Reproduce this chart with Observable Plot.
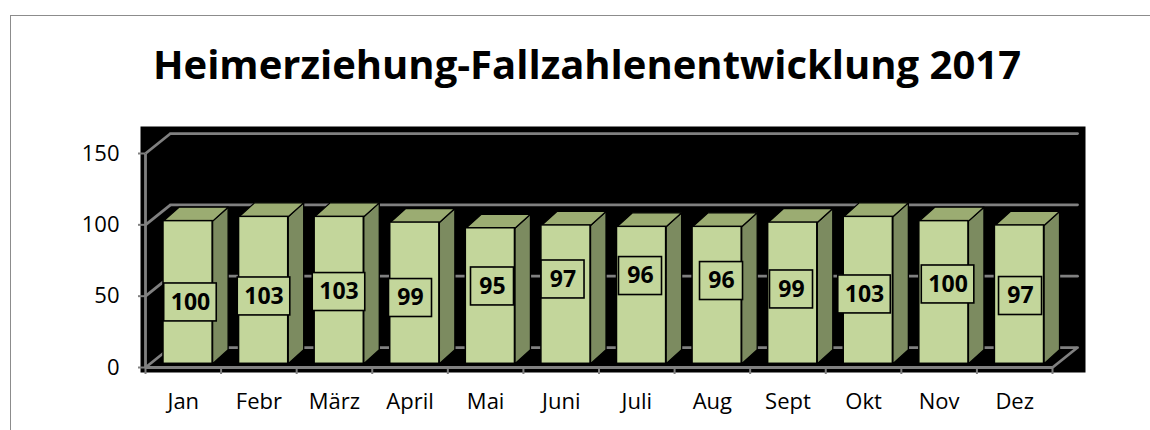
<!DOCTYPE html>
<html>
<head>
<meta charset="utf-8">
<script src="https://cdn.jsdelivr.net/npm/d3@7"></script>
<script src="https://cdn.jsdelivr.net/npm/@observablehq/plot@0.6"></script>
<style>
  html, body { margin: 0; padding: 0; background: #fff; }
  #page { position: relative; width: 1150px; height: 430px; overflow: hidden; font-family: "Open Sans", sans-serif; }
  #border { position: absolute; left: 10px; top: 15px; width: 1200px; height: 600px; border: 1.5px solid #8c8c8c; box-sizing: border-box; }
  #title { position: absolute; left: 0; top: 44px; width: 1174px; text-align: center; font-size: 40px; line-height: 40px; font-weight: 700; color: #000; white-space: nowrap; }
  #chart { position: absolute; left: 0; top: 110px; }
</style>
</head>
<body>
<div id="page">
  <div id="border"></div>
  <div id="title">Heimerziehung-Fallzahlenentwicklung 2017</div>
  <div id="chart"></div>
</div>
<script>
// ---- data ----
const months = ["Jan", "Febr", "März", "April", "Mai", "Juni", "Juli", "Aug", "Sept", "Okt", "Nov", "Dez"];
const cases = [100, 103, 103, 99, 95, 97, 96, 96, 99, 103, 100, 97];
const yTicks = [0, 50, 100, 150];

// ---- layout (chart units: x = month slot, y = cases) ----
const labelX = [0.595, 1.568, 2.560, 3.506, 4.591, 5.524, 6.549, 7.621, 8.547, 9.513, 10.618, 11.577];
const labelY = [45.6, 49.8, 52.9, 48.7, 56.8, 61.7, 64.1, 60.6, 54.7, 51.2, 58.2, 50.1];
const WALL = {dx: 0.331, dy: 14.0};     // depth of the 3D box
const FRONT = {dx: 0.061, dy: 2.6};     // bar front plane offset
const BAR = {dx: 0.205, dy: 9.8};       // bar depth
const BAR_L = 0.177, BAR_R = 0.827;
const gray = "#808080";
const cFront = "#c3d69b", cTop = "#9bac72", cSide = "#7c8b60";

const bars = cases.map((v, i) => ({
  i, v,
  x0: i + BAR_L + FRONT.dx, x1: i + BAR_R + FRONT.dx,
  yb: FRONT.dy, yt: v + FRONT.dy
}));
const topPts = [], sidePts = [];
for (const b of bars) {
  const t = [[b.x0, b.yt], [b.x1, b.yt], [b.x1 + BAR.dx, b.yt + BAR.dy], [b.x0 + BAR.dx, b.yt + BAR.dy], [b.x0, b.yt]];
  t.forEach(([x, y]) => topPts.push({k: b.i, x, y}));
  const s = [[b.x1, b.yb], [b.x1 + BAR.dx, b.yb + BAR.dy], [b.x1 + BAR.dx, b.yt + BAR.dy], [b.x1, b.yt], [b.x1, b.yb]];
  s.forEach(([x, y]) => sidePts.push({k: b.i, x, y}));
}
const labels = cases.map((v, i) => ({
  t: String(v), x: labelX[i], y: labelY[i],
  w: String(v).length > 2 ? 0.695 : 0.569, h: 26.6
}));

const chart = Plot.plot({
  width: 1150, height: 320,
  marginLeft: 145, marginRight: 98, marginTop: 43, marginBottom: 63,
  x: {domain: [0, 12]},
  y: {domain: [0, 150]},
  style: {fontFamily: "Open Sans, sans-serif", background: "transparent", overflow: "visible", color: "#000"},
  marks: [
    Plot.frame({fill: "#000", stroke: null, insetLeft: -5, insetRight: -33, insetTop: -27, insetBottom: -5}),
    // back wall gridlines
    Plot.link(yTicks, {x1: () => WALL.dx, x2: () => 12 + WALL.dx, y1: d => d + WALL.dy, y2: d => d + WALL.dy, stroke: gray, strokeWidth: 2.8, strokeLinecap: "round"}),
    // left wall diagonals
    Plot.link(yTicks, {x1: () => 0, x2: () => WALL.dx, y1: d => d, y2: d => d + WALL.dy, stroke: gray, strokeWidth: 2.8}),
    // right floor diagonal
    Plot.link([0], {x1: () => 12, x2: () => 12 + WALL.dx, y1: () => 0, y2: () => WALL.dy, stroke: gray, strokeWidth: 2.8}),
    // bars
    Plot.line(sidePts, {x: "x", y: "y", z: "k", fill: cSide, stroke: "#000", strokeWidth: 1.3, strokeLinejoin: "round"}),
    Plot.line(topPts, {x: "x", y: "y", z: "k", fill: cTop, stroke: "#000", strokeWidth: 1.3, strokeLinejoin: "round"}),
    Plot.rect(bars, {x1: "x0", x2: "x1", y1: "yb", y2: "yt", fill: cFront, stroke: "#000", strokeWidth: 1.5}),
    // data labels
    Plot.rect(labels, {x1: d => d.x - d.w / 2, x2: d => d.x + d.w / 2, y1: d => d.y - d.h / 2, y2: d => d.y + d.h / 2, fill: cFront, stroke: "#000", strokeWidth: 1.6}),
    Plot.text(labels, {x: "x", y: "y", text: "t", fontSize: 23, fontWeight: "bold", fill: "#000"}),
    // front axis lines
    Plot.link([0], {x1: () => 0, x2: () => 0, y1: () => 0, y2: () => 150, stroke: gray, strokeWidth: 2.8}),
    Plot.link([0], {x1: () => 0, x2: () => 12, y1: () => 0, y2: () => 0, stroke: gray, strokeWidth: 2.8}),
    // axes
    Plot.axisY(yTicks, {tickSize: 7, tickPadding: 19, stroke: gray, strokeWidth: 2, fill: "#000", fontSize: 22, tickFormat: d => String(d)}),
    Plot.axisX(d3.range(13), {tickSize: 7, stroke: gray, strokeWidth: 2, tickFormat: () => ""}),
    Plot.axisX(d3.range(12).map(i => i + 0.5), {tickSize: 0, tickPadding: 26, fill: "#000", fontSize: 22, tickFormat: d => months[Math.floor(d)]})
  ]
});
document.getElementById("chart").appendChild(chart);
</script>
</body>
</html>
